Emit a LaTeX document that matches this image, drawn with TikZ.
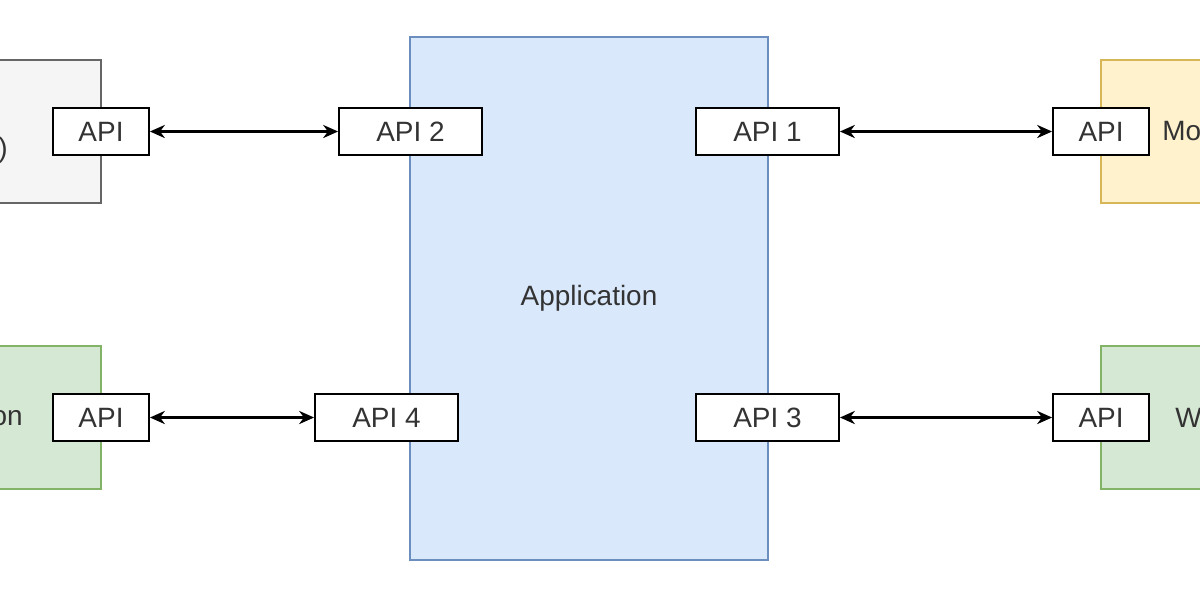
\documentclass[tikz,border=0pt]{standalone}
\usepackage{fontspec}
\setmainfont{Liberation Sans}
\usetikzlibrary{arrows.meta}

\definecolor{appfill}{HTML}{DAE8FC}
\definecolor{appline}{HTML}{6C8EBF}
\definecolor{greyfill}{HTML}{F5F5F5}
\definecolor{greyline}{HTML}{666666}
\definecolor{greenfill}{HTML}{D5E8D4}
\definecolor{greenline}{HTML}{82B366}
\definecolor{yellowfill}{HTML}{FFF2CC}
\definecolor{yellowline}{HTML}{D6B656}
\definecolor{txt}{HTML}{333333}

\tikzset{
    label text/.style={text=txt, font=\fontsize{15.9}{19}\selectfont, inner sep=0pt},
    api/.style={draw=black, line width=1.1pt, fill=white, label text,
        minimum height=0.94cm},
    smallapi/.style={api, minimum width=1.92cm},
    bigapi/.style={api, minimum width=2.86cm},
    link/.style={line width=1.3pt, {Stealth[length=8.5pt,width=7.5pt]}-{Stealth[length=8.5pt,width=7.5pt]}},
}

\begin{document}
\begin{tikzpicture}[x=0.02cm, y=-0.02cm]

    \useasboundingbox (0,0) rectangle (1200,600);
    \clip (0,0) rectangle (1200,600);
    \fill [white] (0,0) rectangle (1200,600);

    % the systems at the sides
    \draw [fill=greyfill, draw=greyline, line width=0.8pt]
        (-20,60) rectangle (101,203);
    \draw [fill=greenfill, draw=greenline, line width=0.8pt]
        (-20,346) rectangle (101,489);
    \draw [fill=yellowfill, draw=yellowline, line width=0.8pt]
        (1101,60) rectangle (1220,203);
    \draw [fill=greenfill, draw=greenline, line width=0.8pt]
        (1101,346) rectangle (1220,489);

    \node [label text, anchor=east] (greytext) at (8,150) {)};
    \node [label text, anchor=east] (greentext) at (23,418) {on};
    \node [label text, anchor=west] (yellowtext) at (1162,131) {Mo};
    \node [label text, anchor=west] (webtext) at (1175,418) {W};

    % the application
    \draw [fill=appfill, draw=appline, line width=0.8pt]
        (410,37) rectangle (768,560);
    \node [label text] (app) at (589,298) {Application};

    % interfaces
    \node [smallapi] (apitl) at (101,131.5) {API};
    \node [smallapi] (apibl) at (101,417.5) {API};
    \node [bigapi] (api2) at (410.5,131.5) {API 2};
    \node [bigapi] (api4) at (386.5,417.5) {API 4};
    \node [bigapi] (api1) at (767.5,131.5) {API 1};
    \node [bigapi] (api3) at (767.5,417.5) {API 3};
    \node [smallapi] (apitr) at (1101,131.5) {API};
    \node [smallapi] (apibr) at (1101,417.5) {API};

    \draw [link] (apitl) -- (api2);
    \draw [link] (apibl) -- (api4);
    \draw [link] (api1) -- (apitr);
    \draw [link] (api3) -- (apibr);

\end{tikzpicture}
\end{document}
